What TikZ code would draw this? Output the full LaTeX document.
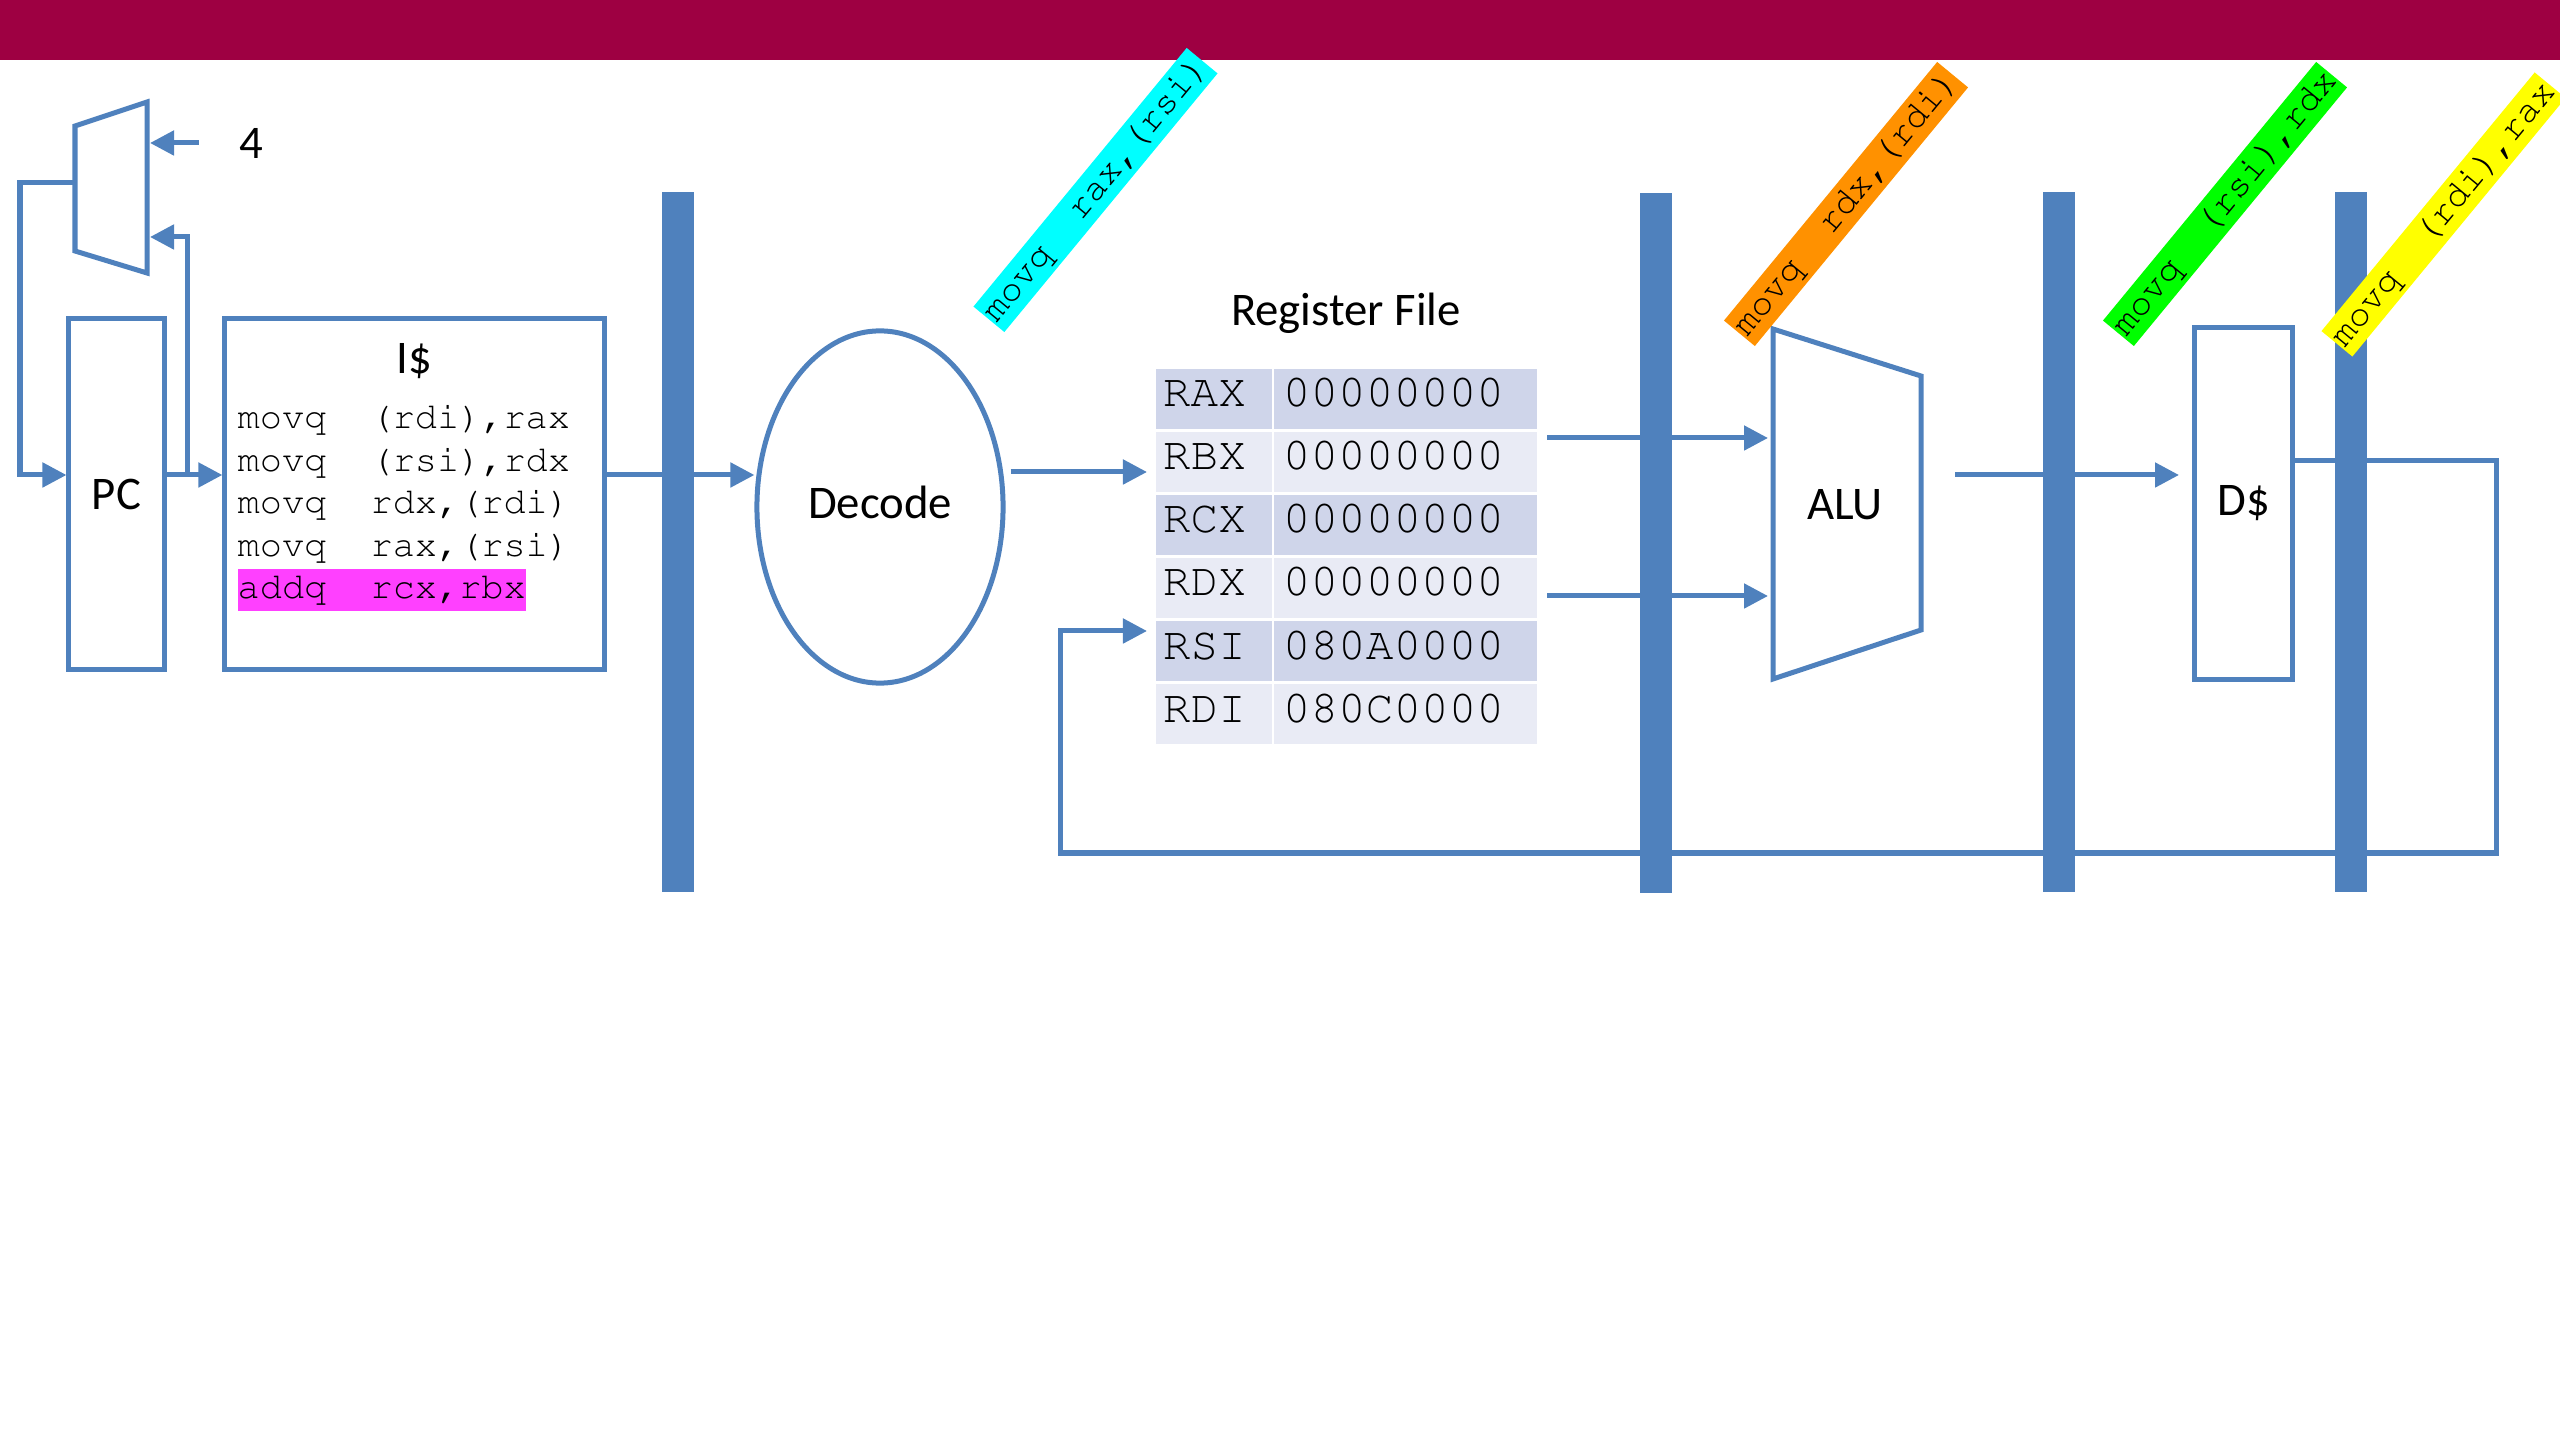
\documentclass[tikz,border=0pt]{standalone}
\usepackage[T1]{fontenc}
\usepackage{fontspec}
\setmainfont{Carlito}
\usetikzlibrary{arrows.meta,positioning,calc,shapes.geometric}

\definecolor{wireblue}{RGB}{79,129,189}
\definecolor{bandred}{RGB}{158,0,66}
\definecolor{rowdark}{RGB}{207,213,234}
\definecolor{rowlight}{RGB}{233,235,245}
\definecolor{hlpink}{RGB}{255,64,255}
\definecolor{tagorange}{RGB}{255,145,0}
\definecolor{taggreen}{RGB}{0,255,0}
\definecolor{tagyellow}{RGB}{255,255,0}
\definecolor{tagcyan}{RGB}{0,255,255}

% Courier for the assembly text
\newcommand{\courier}[2]{\fontencoding{T1}\fontfamily{pcr}\fontsize{#1}{#2}\selectfont}
\newcommand{\hlline}[1]{{\setlength{\fboxsep}{0pt}\colorbox{hlpink}{\strut #1}}}

\begin{document}
\begin{tikzpicture}[
  x=0.01cm, y=-0.01cm,
  font=\fontsize{13.3}{16}\selectfont,
  unit/.style={draw=wireblue, fill=white, line width=0.05cm, inner sep=0pt},
  latch/.style={fill=wireblue, minimum width=0.32cm, minimum height=7cm, inner sep=0pt},
  wire/.style={draw=wireblue, line width=0.05cm},
  arr/.style={wire, -{Triangle[length=0.24cm, width=0.24cm]}},
  regcell/.style={fill=#1, minimum height=0.6cm, inner ysep=0pt, align=flush left,
    text height=0.26cm, text depth=0.1cm, font=\courier{13.1}{15}},
  code/.style={inner sep=0pt, text width=3.4cm, align=flush left,
    font=\courier{10.5}{12.1}},
  tag/.style={fill=#1, rotate=50.5, minimum width=3.35cm, minimum height=0.4cm,
    inner sep=0pt, font=\courier{10.5}{12}}
]
  \useasboundingbox (0,0) rectangle (2560,1440);
  \clip (0,0) rectangle (2560,1440);

  % title band
  \fill[bandred] (0,0) rectangle (2560,60);

  % fetch: PC, +4 mux, I$
  \node[unit, minimum width=0.95cm, minimum height=3.5cm] (pc) at (116.5,494) {PC};
  \node[unit, minimum width=3.79cm, minimum height=3.5cm] (icache) at (414.5,494) {};
  \node (ictitle) at ([yshift=-0.45cm]icache.north) {I\$};
  \node[code, anchor=north west] (prog) at (237,398) {%
    \spaceskip=0pt\xspaceskip=0pt
    \strut movq\ \ (rdi),rax\\
    movq\ \ (rsi),rdx\\
    movq\ \ rdx,(rdi)\\
    movq\ \ rax,(rsi)\\
    \hlline{addq\ \ rcx,rbx}};

  \coordinate (muxTL) at (75,126);
  \coordinate (muxBL) at (75,251);
  \coordinate (muxTR) at (147,102);
  \coordinate (muxBR) at (147,273);
  \draw[wire, fill=white] (muxTL) -- (muxTR) -- (muxBR) -- (muxBL) -- cycle;
  \coordinate (muxout) at (75,183);
  \coordinate (muxin1) at (150,140);
  \coordinate (muxin2) at (150,237);
  \node (four) at (251,143) {4};

  \coordinate (fetch) at (187,475);
  \coordinate (pcloop) at (20,475);
  \draw[arr] (muxout) -| (pcloop) -- (pc.west |- fetch);
  \draw[arr] ([xshift=-0.28cm]four.west) -- (four.west -| muxin1);
  \draw[arr] (pc.east |- fetch) -- (icache.west |- fetch);
  \draw[arr] (fetch) |- (muxin2);

  % decode and register file
  \node[unit, ellipse, minimum width=2.46cm, minimum height=3.52cm, text depth=0.1cm] (decode) at (880,507) {Decode};
  \draw[arr] (icache.east |- fetch) -- (decode.west |- fetch);

  \foreach \reg/\val/\shade [count=\i] in {RAX/00000000/rowdark, RBX/00000000/rowlight,
      RCX/00000000/rowdark, RDX/00000000/rowlight, RSI/080A0000/rowdark, RDI/080C0000/rowlight}{
    \node[regcell=\shade, text width=1.02cm, inner xsep=0.07cm] (n\i) at (1214,336+63*\i) {\reg};
    \node[regcell=\shade, text width=2.45cm, inner xsep=0.09cm] (v\i) at (1405.5,336+63*\i) {\val};
  }
  \node (rftitle) at (1346,313) {Register File};

  \coordinate (rfin) at (1147,472);
  \coordinate (rsiin) at (1147,631);
  \draw[arr] ([xshift=0.05cm]decode.east |- rfin) -- (rfin);

  % execute
  \coordinate (aluTL) at (1773,329);
  \coordinate (aluTR) at (1921,376);
  \coordinate (aluBR) at (1921,630);
  \coordinate (aluBL) at (1773,679);
  \draw[wire, fill=white] (aluTL) -- (aluTR) -- (aluBR) -- (aluBL) -- cycle;
  \node (alu) at (1845,505) {ALU};
  \coordinate (rfoutA) at (1547,438);
  \coordinate (rfoutB) at (1547,596);
  \draw[arr] (rfoutA) -- (rfoutA -| 1768,0);
  \draw[arr] (rfoutB) -- (rfoutB -| 1768,0);

  % memory
  \node[unit, minimum width=0.97cm, minimum height=3.51cm] (dcache) at (2243.5,503.5) {D\$};
  \coordinate (aluout) at (1955,475);
  \draw[arr] (aluout) -- (2179,475);

  % writeback loop
  \coordinate (wbA) at (2496,461);
  \coordinate (wbB) at (2496,853);
  \coordinate (wbC) at (1060,853);
  \draw[arr] (dcache.east |- wbA) -- (wbA) -- (wbB) -- (wbC) |- (rsiin);

  % pipeline latches
  \node[latch] (l1) at (678,542) {};
  \node[latch] (l2) at (1656,543) {};
  \node[latch] (l3) at (2059,542) {};
  \node[latch] (l4) at (2351,542) {};

  % instructions in flight
  \node[tag=tagcyan] (tagid) at (1095.5,190) {movq\ \ rax,(rsi)};
  \node[tag=tagorange] (tagex) at (1846,204) {movq\ \ rdx,(rdi)};
  \node[tag=taggreen] (tagmem) at (2225,204) {movq\ \ (rsi),rdx};
  \node[tag=tagyellow] (tagwb) at (2443.5,214.5) {movq\ \ (rdi),rax};
\end{tikzpicture}
\end{document}
